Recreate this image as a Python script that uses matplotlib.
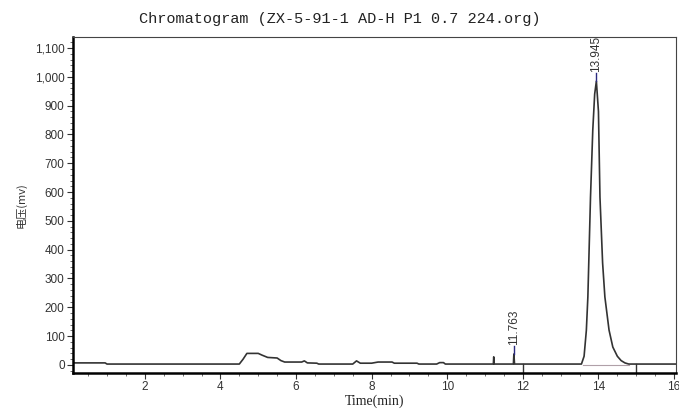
import numpy as np
import matplotlib
matplotlib.use("Agg")
import matplotlib.pyplot as plt
from matplotlib.ticker import MultipleLocator, FuncFormatter

# chromatogram trace (time in min, signal in mv)
time_min = [0.1, 0.95, 1.0, 4.5, 4.6, 4.7, 5.0, 5.1, 5.25, 5.5, 5.6, 5.7,
            6.15, 6.22, 6.3, 6.55, 6.6, 7.5, 7.6, 7.7, 8.0, 8.17, 8.54, 8.6,
            9.2, 9.25, 9.72, 9.8, 9.9, 9.95, 11.22, 11.23, 11.24, 11.75,
            11.763, 11.78, 13.55, 13.62, 13.68, 13.72, 13.79, 13.85, 13.9,
            13.945, 14.0, 14.04, 14.11, 14.17, 14.28, 14.38, 14.5, 14.6,
            14.7, 14.8, 15.0, 16.05]
signal_mv = [7, 7, 3, 3, 20, 40, 40, 34, 26, 24, 15, 10,
             10, 14, 7, 6, 3, 3, 14, 6, 6, 10, 10, 6,
             6, 3, 3, 8, 8, 3, 3, 28, 3, 3,
             38, 3, 3, 30, 120, 236, 583, 815, 940,
             985, 880, 583, 354, 236, 121, 62, 30, 15,
             7, 3, 3, 3]

peak_times = [11.763, 13.945]
peak_heights = [38, 985]
peak_labels = ["11.763", "13.945"]

event_marks = [12.0, 15.0]
baseline_span = [13.6, 14.8]

fig = plt.figure(figsize=(6.79, 4.12), dpi=100)
ax = fig.add_axes([0.1075, 0.0947, 0.888, 0.8153])

ax.plot(time_min, signal_mv, color="#333333", lw=1.2)
ax.plot(baseline_span, [0, 0], color="#b0a0a8", lw=0.8)
for t in event_marks:
    ax.plot([t, t], [3, -25], color="#333333", lw=1.0)

for t, h, lab in zip(peak_times, peak_heights, peak_labels):
    ax.plot([t, t], [h, h + 28], color="#2a2a80", lw=1.0)
    ax.annotate(lab, (t, h + 28), xytext=(0, 1), textcoords="offset points",
                rotation=90, ha="center", va="bottom", fontsize=8.5,
                color="#333333", family="Liberation Sans")

ax.set_xlim(0.1, 16.05)
ax.set_ylim(-28, 1138)
ax.xaxis.set_major_locator(MultipleLocator(2))
ax.xaxis.set_minor_locator(MultipleLocator(0.5))
ax.yaxis.set_major_locator(MultipleLocator(100))
ax.yaxis.set_minor_locator(MultipleLocator(20))
ax.yaxis.set_major_formatter(FuncFormatter(lambda v, p: f"{int(v):,}"))
ax.xaxis.set_major_formatter(FuncFormatter(lambda v, p: f"{int(v)}"))

ax.tick_params(which="major", length=4, width=0.8, labelsize=8.5,
               colors="#333333", pad=2)
ax.tick_params(which="minor", length=2, width=0.6, colors="#555555")
for lab in ax.get_xticklabels() + ax.get_yticklabels():
    lab.set_family("Liberation Sans")

ax.spines["left"].set_linewidth(1.8)
ax.spines["bottom"].set_linewidth(1.8)
ax.spines["top"].set_linewidth(0.8)
ax.spines["right"].set_linewidth(0.8)
ax.spines["top"].set_color("#444444")
ax.spines["right"].set_color("#444444")

ax.set_xlabel("Time(min)", family="Liberation Serif", fontsize=10,
              color="#222222", labelpad=1)
ax.set_ylabel("电压(mv)", family=["Noto Sans CJK SC", "DejaVu Sans"],
              fontsize=8, color="#333333", labelpad=6)
fig.text(0.5, 0.955, "Chromatogram (ZX-5-91-1 AD-H P1 0.7 224.org)",
         ha="center", va="center", family="Liberation Mono", fontsize=11,
         color="#222222")

fig.savefig("out.png", dpi=100)
